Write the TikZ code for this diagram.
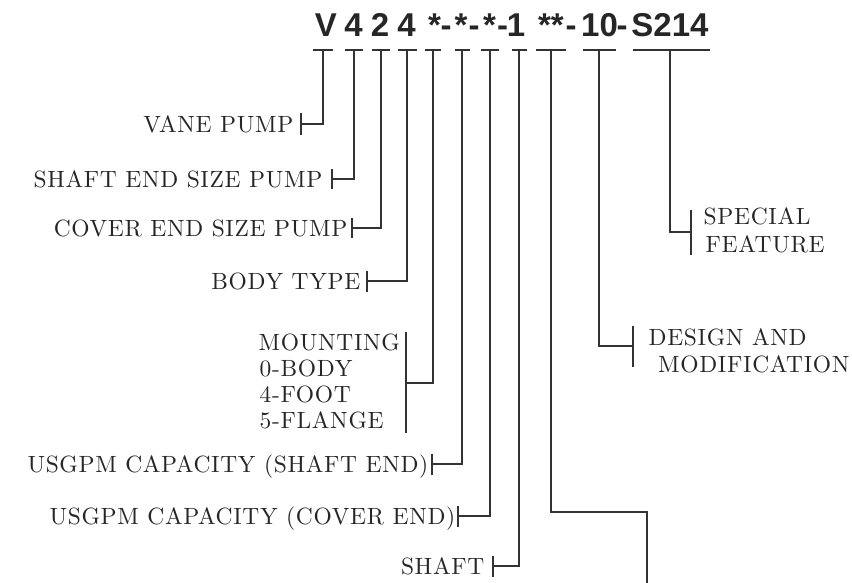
\documentclass[tikz,border=0pt]{standalone}
\usepackage{fontspec}
\setmainfont{lmroman10-regular}[Extension=.otf, LetterSpace=2.8]
\newfontfamily\hdfont{Liberation Sans}
\begin{document}
\begin{tikzpicture}[x=1pt,y=-1pt,
  ln/.style={line width=1.1pt, draw=black!80},
  lbl/.style={font=\fontsize{23.5}{28}\selectfont, inner sep=0pt, text=black!85},
  hd/.style={font=\hdfont\bfseries\fontsize{33}{36}\selectfont, inner sep=0pt, anchor=base, text=black!85}]
\useasboundingbox (0,0) rectangle (852,583);

% header code
\node[hd] (hV)  at (326,37) {V};
\node[hd] (h4a) at (353.5,37) {4};
\node[hd] (h2)  at (380,37) {2};
\node[hd] (h4b) at (406.5,37) {4};
\node[hd] (hs1) at (434.5,37) {*};
\node[hd] (hd1) at (446,37) {-};
\node[hd] (hs2) at (461,37) {*};
\node[hd] (hd2) at (474,37) {-};
\node[hd] (hs3) at (489.5,37) {*};
\node[hd] (hd3) at (502.5,37) {-};
\node[hd] (h1)  at (516,37) {1};
\node[hd] (hss) at (551,37) {**};
\node[hd] (hd4) at (571,37) {-};
\node[hd] (h10) at (599.5,37) {10};
\node[hd] (hd5) at (622,37) {-};
\node[hd] (hS)  at (670,37) {S214};

% T bars
\coordinate (tV)  at (323,50);
\coordinate (t4a) at (354,50);
\coordinate (t2)  at (381,50);
\coordinate (t4b) at (407,50);
\coordinate (ts1) at (433,50);
\coordinate (ts2) at (462,50);
\coordinate (ts3) at (490,50);
\coordinate (t1)  at (519,50);
\coordinate (tss) at (551,50);
\coordinate (t10) at (599,50);
\coordinate (tS)  at (670,50);
\draw[ln] ([xshift=-10pt]tV) -- ([xshift=10pt]tV);
\draw[ln] ([xshift=-9pt]t4a) -- ([xshift=9pt]t4a);
\draw[ln] ([xshift=-9pt]t2) -- ([xshift=9pt]t2);
\draw[ln] ([xshift=-9.5pt]t4b) -- ([xshift=9.5pt]t4b);
\draw[ln] ([xshift=-8pt]ts1) -- ([xshift=8pt]ts1);
\draw[ln] ([xshift=-7.5pt]ts2) -- ([xshift=7.5pt]ts2);
\draw[ln] ([xshift=-9pt]ts3) -- ([xshift=9pt]ts3);
\draw[ln] ([xshift=-7.5pt]t1) -- ([xshift=7.5pt]t1);
\draw[ln] ([xshift=-15pt]tss) -- ([xshift=15pt]tss);
\draw[ln] ([xshift=-16.5pt]t10) -- ([xshift=17pt]t10);
\draw[ln] ([xshift=-37pt]tS) -- ([xshift=40pt]tS);

% left labels
\coordinate (kV) at (301,124);
\node[lbl,anchor=base east] (lV) at (293.5,132.5) {VANE PUMP};
\draw[ln] (tV) |- (kV);
\draw[ln] ([yshift=11pt]kV) -- ([yshift=-11pt]kV);

\coordinate (k4a) at (332,179);
\node[lbl,anchor=base east] (l4a) at (322.5,187.5) {SHAFT END SIZE PUMP};
\draw[ln] (t4a) |- (k4a);
\draw[ln] ([yshift=10pt]k4a) -- ([yshift=-10pt]k4a);

\coordinate (k2) at (352,228);
\node[lbl,anchor=base east] (l2) at (347.5,236.5) {COVER END SIZE PUMP};
\draw[ln] (t2) |- (k2);
\draw[ln] ([yshift=10pt]k2) -- ([yshift=-10pt]k2);

\coordinate (k4b) at (367,281);
\node[lbl,anchor=base east] (l4b) at (360.5,289.5) {BODY TYPE};
\draw[ln] (t4b) |- (k4b);
\draw[ln] ([yshift=10.5pt]k4b) -- ([yshift=-10.5pt]k4b);

\coordinate (kM) at (406,383);
\node[lbl,anchor=base west] (lM1) at (258.5,350) {MOUNTING};
\node[lbl,anchor=base west] (lM2) at (259.5,376) {0-BODY};
\node[lbl,anchor=base west] (lM3) at (259.5,402) {4-FOOT};
\node[lbl,anchor=base west] (lM4) at (259.5,428) {5-FLANGE};
\draw[ln] (ts1) |- (kM);
\draw[ln] ([yshift=51pt]kM) -- ([yshift=-50pt]kM);

\coordinate (ks2) at (432,464);
\node[lbl,anchor=base east] (ls2) at (428.5,472.5) {USGPM CAPACITY (SHAFT END)};
\draw[ln] (ts2) |- (ks2);
\draw[ln] ([yshift=10.5pt]ks2) -- ([yshift=-10.5pt]ks2);

\coordinate (ks3) at (458,516);
\node[lbl,anchor=base east] (ls3) at (455.5,524.5) {USGPM CAPACITY (COVER END)};
\draw[ln] (ts3) |- (ks3);
\draw[ln] ([yshift=10.5pt]ks3) -- ([yshift=-10.5pt]ks3);

\coordinate (k1) at (493,566);
\node[lbl,anchor=base east] (l1) at (484.5,574.5) {SHAFT};
\draw[ln] (t1) |- (k1);
\draw[ln] ([yshift=10.5pt]k1) -- ([yshift=-10.5pt]k1);

% ** connector, free end at bottom
\coordinate (eS) at (647,583);
\draw[ln] (tss) -- ++(0,462) -| (eS);

% right labels
\coordinate (k10) at (633,346);
\node[lbl,anchor=base west] (l10a) at (648.5,345) {DESIGN AND};
\node[lbl,anchor=base west] (l10b) at (658,372) {MODIFICATION};
\draw[ln] (t10) |- (k10);
\draw[ln] ([yshift=20.5pt]k10) -- ([yshift=-21pt]k10);

\coordinate (kS) at (691,232);
\node[lbl,anchor=base west] (lS1) at (703.5,225) {SPECIAL};
\node[lbl,anchor=base west] (lS2) at (705.5,252) {FEATURE};
\draw[ln] (tS) |- (kS);
\draw[ln] ([yshift=22pt]kS) -- ([yshift=-23pt]kS);
\end{tikzpicture}
\end{document}
